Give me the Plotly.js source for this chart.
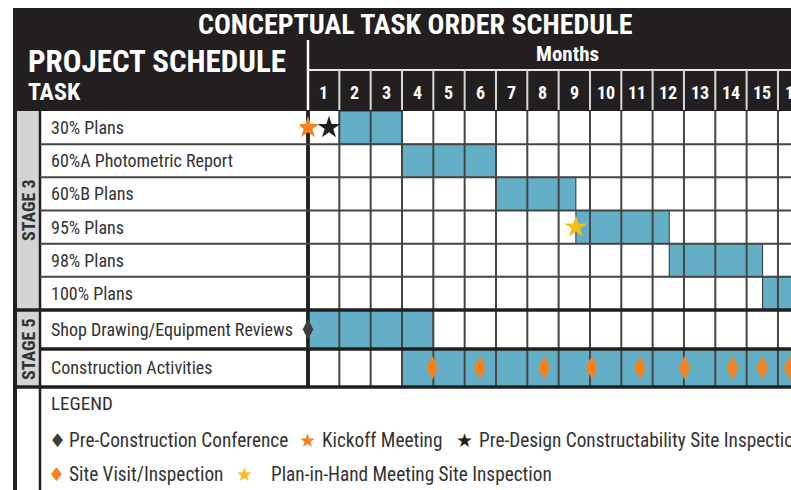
<!DOCTYPE html>
<html>
<head>
<meta charset="utf-8">
<script src="https://cdn.plot.ly/plotly-3.0.1.min.js"></script>
<style>
  body { margin: 0; background: #fff; }
  #chart { width: 791px; height: 490px; }
</style>
</head>
<body>
<div id="chart"></div>
<script>
// ---- data ----
var stage3Tasks = ['30% Plans', '60%A Photometric Report', '60%B Plans', '95% Plans', '98% Plans', '100% Plans'];
var stage3Start = [1, 3, 6, 8.55, 11.53, 14.51];
var stage3End = [3, 6, 8.55, 11.53, 14.51, 16];

var stage5Tasks = ['Shop Drawing/Equipment Reviews', 'Construction Activities'];
var stage5Start = [0, 3];
var stage5End = [4, 16];

var months = ['1', '2', '3', '4', '5', '6', '7', '8', '9', '10', '11', '12', '13', '14', '15', '16'];

// milestones (x in months from the start of month 1, row index in its stage)
var kickoffX = [0], kickoffRow = [0];
var preDesignX = [0.67], preDesignRow = [0];
var planInHandX = [8.55], planInHandRow = [3];
var preConX = [0], preConRow = [0];
var siteVisitX = [3.97, 5.49, 7.54, 9.06, 10.6, 12.02, 13.55, 14.5, 15.38];

var legendNames = ['Pre-Construction Conference', 'Kickoff Meeting', 'Pre-Design Constructability Site Inspection',
                   'Site Visit/Inspection', 'Plan-in-Hand Meeting Site Inspection'];

// ---- page geometry ----
var W = 791, H = 490;
function px(x){ return x / W; }
function py(y){ return 1 - y / H; }
var colW = 31.33;          // pixels per month
var gridLeft = 308;        // pixel x of month 0
var blue = '#64afc8', orange = '#f58220', yellow = '#f5bd1a', dark = '#231f20', gridCol = '#454545';
var cond = 'Roboto Condensed, Liberation Sans Narrow, DejaVu Sans Condensed, sans-serif';

function lengths(s, e){
  var out = [];
  for(var i = 0; i < s.length; i++){ out.push(e[i] - s[i]); }
  return out;
}
function idx(n){
  var out = [];
  for(var i = 0; i < n; i++){ out.push(i); }
  return out;
}
function vLines(from, to, rowsN){
  var xs = [], ys = [];
  for(var k = from; k <= to; k++){
    xs.push(k, k, null);
    ys.push(-0.5, rowsN - 0.5, null);
  }
  return {x: xs, y: ys};
}
function repeat(v, n){
  var out = [];
  for(var i = 0; i < n; i++){ out.push(v); }
  return out;
}
// text placed in page pixels
function label(text, x, y, opts){
  var a = {text: text, xref: 'paper', yref: 'paper', x: px(x), y: py(y),
           xanchor: 'center', yanchor: 'middle', showarrow: false};
  for(var k in opts){ a[k] = opts[k]; }
  return a;
}

var g3 = vLines(1, 16, stage3Tasks.length);
var g5 = vLines(1, 16, stage5Tasks.length);

var data = [
  {type: 'bar', orientation: 'h', y: idx(stage3Tasks.length), base: stage3Start,
   x: lengths(stage3Start, stage3End), width: 1, xaxis: 'x', yaxis: 'y',
   marker: {color: blue, line: {color: '#333', width: 1}}, hoverinfo: 'skip', showlegend: false},
  {type: 'bar', orientation: 'h', y: idx(stage5Tasks.length), base: stage5Start,
   x: lengths(stage5Start, stage5End), width: 1, xaxis: 'x', yaxis: 'y2',
   marker: {color: blue, line: {color: '#333', width: 1}}, hoverinfo: 'skip', showlegend: false},
  // month grid
  {type: 'scatter', mode: 'lines', x: g3.x, y: g3.y, xaxis: 'x', yaxis: 'y',
   line: {color: gridCol, width: 2}, hoverinfo: 'skip', showlegend: false},
  {type: 'scatter', mode: 'lines', x: g5.x, y: g5.y, xaxis: 'x', yaxis: 'y2',
   line: {color: gridCol, width: 2}, hoverinfo: 'skip', showlegend: false},
  {type: 'scatter', mode: 'lines', x: [0, 0], y: [-0.5, stage3Tasks.length - 0.5], xaxis: 'x', yaxis: 'y',
   line: {color: dark, width: 3.5}, hoverinfo: 'skip', showlegend: false},
  {type: 'scatter', mode: 'lines', x: [0, 0], y: [-0.5, stage5Tasks.length - 0.5], xaxis: 'x', yaxis: 'y2',
   line: {color: dark, width: 3.5}, hoverinfo: 'skip', showlegend: false},
  // milestones
  {type: 'scatter', mode: 'markers', name: legendNames[1], x: kickoffX, y: kickoffRow, xaxis: 'x', yaxis: 'y',
   marker: {symbol: 'star', size: 17, color: orange, line: {width: 0}}, showlegend: false},
  {type: 'scatter', mode: 'markers', name: legendNames[2], x: preDesignX, y: preDesignRow, xaxis: 'x', yaxis: 'y',
   marker: {symbol: 'star', size: 17, color: dark, line: {width: 0}}, showlegend: false},
  {type: 'scatter', mode: 'markers', name: legendNames[4], x: planInHandX, y: planInHandRow, xaxis: 'x', yaxis: 'y',
   marker: {symbol: 'star', size: 17, color: yellow, line: {width: 0}}, showlegend: false},
  {type: 'scatter', mode: 'markers', name: legendNames[0], x: preConX, y: preConRow, xaxis: 'x', yaxis: 'y2',
   marker: {symbol: 'diamond-tall', size: 15, color: '#3d3d3d', line: {width: 0}}, showlegend: false},
  {type: 'scatter', mode: 'markers', name: legendNames[3], x: siteVisitX, y: repeat(1, siteVisitX.length),
   xaxis: 'x', yaxis: 'y2',
   marker: {symbol: 'diamond-tall', size: 17, color: orange, line: {width: 0}}, showlegend: false}
];

var shapes = [
  // header band
  {type: 'rect', xref: 'paper', yref: 'paper', x0: px(13), x1: 1, y0: py(111), y1: py(8),
   fillcolor: dark, line: {width: 0}, layer: 'below'},
  // stage label cells
  {type: 'rect', xref: 'paper', yref: 'paper', x0: px(16), x1: px(40), y0: py(310), y1: py(111),
   fillcolor: '#d3d4d5', line: {width: 0}, layer: 'below'},
  {type: 'rect', xref: 'paper', yref: 'paper', x0: px(16), x1: px(40), y0: py(387), y1: py(310),
   fillcolor: '#d3d4d5', line: {width: 0}, layer: 'below'},
  // outer left border and stage column border
  {type: 'line', xref: 'paper', yref: 'paper', x0: px(15), x1: px(15), y0: 0, y1: py(8),
   line: {color: dark, width: 4}},
  {type: 'line', xref: 'paper', yref: 'paper', x0: px(40), x1: px(40), y0: 0, y1: py(110),
   line: {color: dark, width: 2.5}},
  // task column right border
  {type: 'line', xref: 'paper', yref: 'paper', x0: px(gridLeft), x1: px(gridLeft), y0: py(387), y1: py(111),
   line: {color: dark, width: 3.5}, layer: 'below'},
  // header white separators
  {type: 'line', xref: 'paper', yref: 'paper', x0: px(gridLeft), x1: px(gridLeft), y0: py(110), y1: py(40),
   line: {color: '#ffffff', width: 2.5}},
  {type: 'line', xref: 'paper', yref: 'paper', x0: px(gridLeft), x1: 1, y0: py(70), y1: py(70),
   line: {color: '#e8e8e8', width: 2}},
  // thick row separators
  {type: 'line', xref: 'paper', yref: 'paper', x0: px(13), x1: 1, y0: py(310), y1: py(310),
   line: {color: dark, width: 3.5}},
  {type: 'line', xref: 'paper', yref: 'paper', x0: px(40), x1: 1, y0: py(349), y1: py(349),
   line: {color: dark, width: 3.5}},
  {type: 'line', xref: 'paper', yref: 'paper', x0: px(13), x1: 1, y0: py(387), y1: py(387),
   line: {color: dark, width: 3.5}}
];
// stage 3 row lines
for(var r = 0; r < stage3Tasks.length - 1; r++){
  shapes.push({type: 'line', xref: 'paper', yref: 'y', x0: px(40), x1: 1, y0: r + 0.5, y1: r + 0.5,
               line: {color: gridCol, width: 2}});
}
// header month separators
for(var m = 1; m < months.length; m++){
  shapes.push({type: 'line', xref: 'x', yref: 'paper', x0: m, x1: m, y0: py(110), y1: py(70),
               line: {color: '#d8d8d8', width: 2}});
}

var white = '#fff', txt = '#333';
var ann = [
  label('CONCEPTUAL TASK ORDER SCHEDULE', 416, 25, {font: {family: cond, size: 28, color: white, weight: 'bold'}}),
  label('PROJECT SCHEDULE', 26, 62, {xanchor: 'left', font: {family: cond, size: 31, color: white, weight: 'bold'}}),
  label('TASK', 26, 92, {xanchor: 'left', font: {family: cond, size: 24, color: white, weight: 'bold'}}),
  label('Months', 567, 54, {font: {family: cond, size: 21, color: white, weight: 'bold'}}),
  label('STAGE 3', 28, 210, {textangle: -90, font: {family: cond, size: 18, color: txt, weight: 'bold'}}),
  label('STAGE 5', 28, 349, {textangle: -90, font: {family: cond, size: 18, color: txt, weight: 'bold'}}),
  label('LEGEND', 49, 403, {xanchor: 'left', font: {family: cond, size: 19, color: txt}})
];
for(var i = 0; i < months.length; i++){
  ann.push(label(months[i], gridLeft + (i + 0.5) * colW, 92,
                 {font: {family: cond, size: 18, color: white, weight: 'bold'}}));
}
for(var i = 0; i < stage3Tasks.length; i++){
  ann.push({text: stage3Tasks[i], xref: 'paper', yref: 'y', x: px(49), y: i, xanchor: 'left', yanchor: 'middle',
            showarrow: false, font: {family: cond, size: 18, color: txt}});
}
for(var i = 0; i < stage5Tasks.length; i++){
  ann.push({text: stage5Tasks[i], xref: 'paper', yref: 'y2', x: px(49), y: i, xanchor: 'left', yanchor: 'middle',
            showarrow: false, font: {family: cond, size: 18, color: txt}});
}
// legend rows
var legendGlyph = ['\u2666', '\u2605', '\u2605', '\u2666', '\u2605'];
var legendGlyphColor = ['#3d3d3d', orange, dark, orange, yellow];
var legendGlyphX = [57, 307, 465, 56, 245];
var legendTextX = [67, 320, 477, 67, 269];
var legendY = [440, 440, 440, 474, 474];
for(var i = 0; i < legendNames.length; i++){
  ann.push(label(legendGlyph[i], legendGlyphX[i], legendY[i],
                 {font: {family: 'DejaVu Sans', size: 19, color: legendGlyphColor[i]}}));
  ann.push(label(legendNames[i], legendTextX[i], legendY[i],
                 {xanchor: 'left', font: {family: cond, size: 19.3, color: txt}}));
}

var layout = {
  width: W, height: H,
  margin: {l: 0, r: 0, t: 0, b: 0},
  paper_bgcolor: '#fff', plot_bgcolor: 'rgba(0,0,0,0)',
  showlegend: false,
  barmode: 'overlay',
  xaxis: {domain: [px(300), 1], range: [-8 / colW, (W - gridLeft) / colW],
          showgrid: false, zeroline: false, showticklabels: false, ticks: '', fixedrange: true},
  yaxis: {domain: [py(310), py(111)], range: [stage3Tasks.length - 0.5, -0.5],
          showgrid: false, zeroline: false, showticklabels: false, ticks: '', fixedrange: true},
  yaxis2: {domain: [py(387), py(310)], range: [stage5Tasks.length - 0.5, -0.5], anchor: 'x',
           showgrid: false, zeroline: false, showticklabels: false, ticks: '', fixedrange: true},
  shapes: shapes,
  annotations: ann
};

Plotly.newPlot('chart', data, layout, {displayModeBar: false, staticPlot: true});
</script>
</body>
</html>
